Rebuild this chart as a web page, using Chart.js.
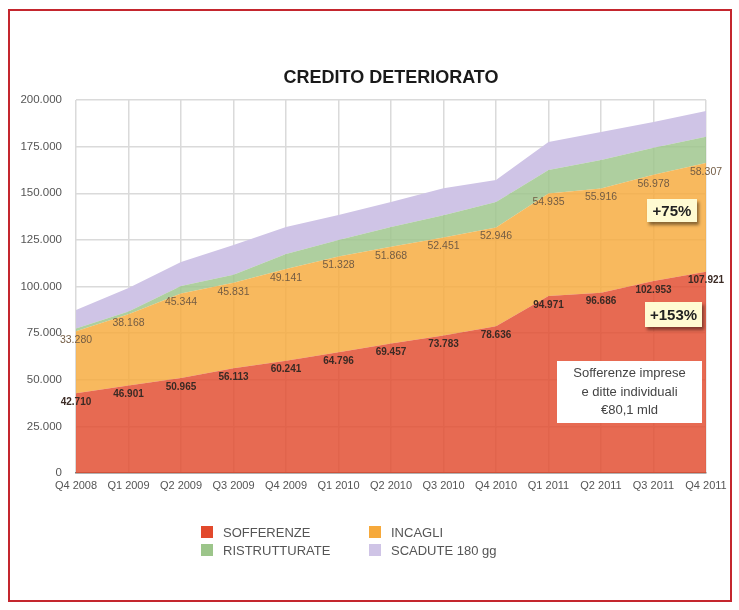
<!DOCTYPE html>
<html>
<head>
<meta charset="utf-8">
<script src="https://cdn.jsdelivr.net/npm/chart.js@4/dist/chart.umd.min.js"></script>
<style>
    html, body { margin: 0; padding: 0; background: #fff; }
    #wrap { position: relative; width: 739px; height: 610px; font-family: "Liberation Sans", Arial, sans-serif; }
    #frame { position: absolute; left: 8px; top: 9px; width: 720px; height: 589px; border: 2px solid #c4262e; }
    #creditChart { position: absolute; left: 0; top: 0; }
    .tag { position: absolute; background: #fffbd2; box-shadow: 2px 3px 3px rgba(0, 0, 0, 0.45); font-weight: bold; font-size: 15px; color: #222; text-align: center; }
    .note { position: absolute; background: #fff; font-size: 13px; line-height: 18.5px; color: #444; text-align: center; box-sizing: border-box; padding-top: 3px; }
    .legend-item { position: absolute; font-size: 13px; color: #555; line-height: 14px; white-space: nowrap; }
    .legend-item span { display: inline-block; width: 12px; height: 12px; vertical-align: -1px; margin-right: 10px; }
</style>
</head>
<body>
<div id="wrap">
    <div id="frame"></div>
    <canvas id="creditChart" width="739" height="610"></canvas>
    <div class="tag" style="left:647px; top:199px; width:50px; height:23px; line-height:23px;">+75%</div>
    <div class="tag" style="left:645px; top:302px; width:57px; height:25px; line-height:25px;">+153%</div>
    <div class="note" style="left:557px; top:361px; width:145px; height:62px;">Sofferenze imprese<br>e ditte individuali<br>€80,1 mld</div>
    <div id="legend"></div>
</div>
<script>
// Quarterly stock of impaired loans (millions of euro)
const quarters = ["Q4 2008", "Q1 2009", "Q2 2009", "Q3 2009", "Q4 2009", "Q1 2010", "Q2 2010",
    "Q3 2010", "Q4 2010", "Q1 2011", "Q2 2011", "Q3 2011", "Q4 2011"];
const sofferenze = [42710, 46901, 50965, 56113, 60241, 64796, 69457, 73783, 78636, 94971, 96686, 102953, 107921];
const incagli = [33280, 38168, 45344, 45831, 49141, 51328, 51868, 52451, 52946, 54935, 55916, 56978, 58307];
const ristrutturate = [1500, 1500, 4000, 4300, 8000, 8800, 10600, 12000, 13700, 12600, 15200, 14400, 14000];
const scadute = [9900, 12600, 12800, 16000, 14500, 13400, 13400, 14500, 11800, 15000, 15000, 13900, 13900];

const seriesNames = ["SOFFERENZE", "INCAGLI", "RISTRUTTURATE", "SCADUTE 180 gg"];
const seriesColors = ["#e2492c", "#f6a93b", "#9cc58a", "#cfc4e6"];
const yTicks = [0, 25000, 50000, 75000, 100000, 125000, 150000, 175000, 200000];

// 200000 -> "200.000"
function fmt(v) {
    return String(v).replace(/\B(?=(\d{3})+(?!\d))/g, ".");
}

function fade(hex, a) {
    const n = parseInt(hex.slice(1), 16);
    return `rgba(${n >> 16}, ${(n >> 8) & 255}, ${n & 255}, ${a})`;
}

const allSeries = [sofferenze, incagli, ristrutturate, scadute];
const datasets = allSeries.map((values, i) => ({
    label: seriesNames[i],
    data: values,
    backgroundColor: i === 3 ? seriesColors[i] : fade(seriesColors[i], 0.82),
    borderWidth: 0,
    pointRadius: 0,
    tension: 0,
    fill: i === 0 ? "origin" : "-1"
}));

// value labels under the top edge of the two bottom layers
const labelStyles = [
    { font: "bold 10px 'Liberation Sans', Arial, sans-serif", color: "#3a2a24" },
    { font: "10.5px 'Liberation Sans', Arial, sans-serif", color: "#735c44" }
];
const valueLabels = {
    id: "valueLabels",
    afterDatasetsDraw(chart) {
        const ctx = chart.ctx;
        ctx.save();
        ctx.textAlign = "center";
        ctx.textBaseline = "middle";
        labelStyles.forEach((style, i) => {
            const meta = chart.getDatasetMeta(i);
            ctx.font = style.font;
            ctx.fillStyle = style.color;
            meta.data.forEach((pt, j) => {
                ctx.fillText(fmt(allSeries[i][j]), pt.x, pt.y + 9);
            });
        });
        ctx.restore();
    }
};

function buildLegend() {
    const box = document.getElementById("legend");
    const spots = [[201, 526], [369, 526], [201, 544], [369, 544]];
    // column order: sofferenze, incagli / ristrutturate, scadute
    seriesNames.forEach((name, i) => {
        const item = document.createElement("div");
        item.className = "legend-item";
        item.style.left = spots[i][0] + "px";
        item.style.top = spots[i][1] + "px";
        item.innerHTML = `<span style="background:${seriesColors[i]}"></span>${name}`;
        box.appendChild(item);
    });
}

function renderCreditChart() {
    const ctx = document.getElementById("creditChart").getContext("2d");
    new Chart(ctx, {
        type: "line",
        data: { labels: quarters, datasets: datasets },
        plugins: [valueLabels],
        options: {
            responsive: false,
            animation: false,
            layout: { padding: { left: 0, right: 33, top: 0, bottom: 117 } },
            plugins: {
                legend: { display: false },
                tooltip: { enabled: false },
                title: {
                    display: true,
                    text: "CREDITO DETERIORATO",
                    fullSize: false,
                    color: "#1a1a1a",
                    font: { family: "'Liberation Sans', Arial, sans-serif", size: 18, weight: "bold" },
                    padding: { top: 67, bottom: 11.4 }
                }
            },
            scales: {
                x: {
                    grid: { color: "#dadada", lineWidth: 1.5, drawTicks: false },
                    border: { color: "#7a7a7a", width: 1.5 },
                    ticks: {
                        padding: 6, autoSkip: false, maxRotation: 0, color: "#555",
                        font: { family: "'Liberation Sans', Arial, sans-serif", size: 11 }
                    },
                    afterFit(scale) { scale.height = 20; }
                },
                y: {
                    stacked: true,
                    min: 0,
                    max: 200000,
                    grid: { color: "#dadada", lineWidth: 1.5, drawTicks: false },
                    border: { display: false },
                    afterBuildTicks(scale) { scale.ticks = yTicks.map(v => ({ value: v })); },
                    ticks: {
                        padding: 14, color: "#555",
                        font: { family: "'Liberation Sans', Arial, sans-serif", size: 11.5 },
                        callback: v => fmt(v)
                    },
                    afterFit(scale) { scale.width = 76; }
                }
            }
        }
    });
}

buildLegend();
renderCreditChart();
</script>
</body>
</html>
